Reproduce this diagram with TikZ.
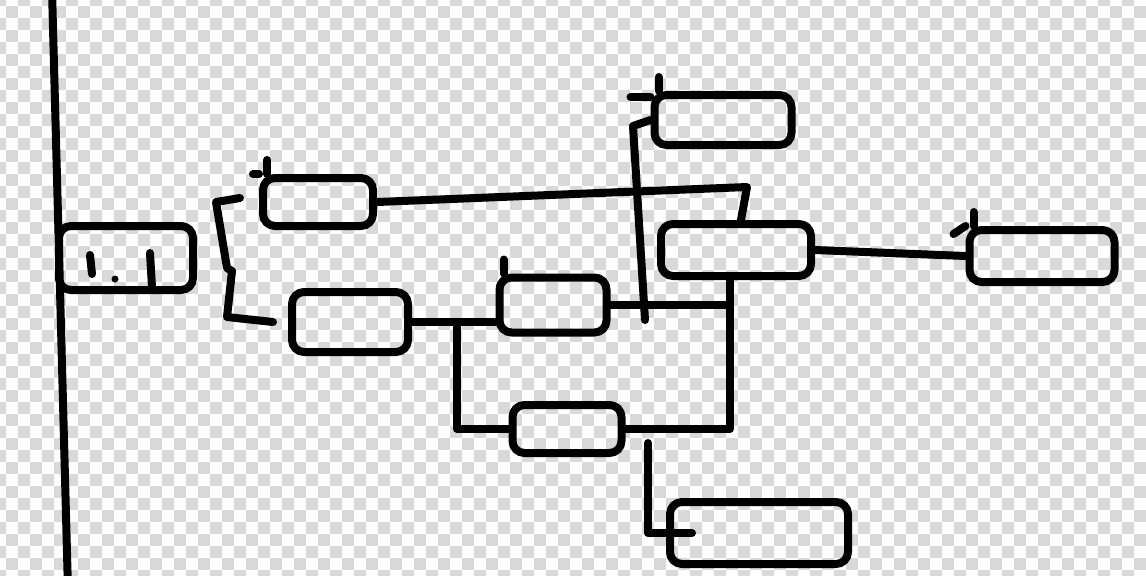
\documentclass[tikz,border=0pt]{standalone}
\usetikzlibrary{positioning}
\definecolor{checkgray}{gray}{0.85}

\tikzset{
  sketch/.style={line width=4pt, line cap=round, line join=round},
  sketchbox/.style={sketch, draw=black, rounded corners=6pt, inner sep=0pt},
}

\begin{document}
\begin{tikzpicture}[x=0.5pt, y=-0.5pt]
  \useasboundingbox (0,0) rectangle (1146,575);

  % transparent background
  \begin{scope}
    \clip (0,0) rectangle (1146,575);
    \fill[white] (0,0) rectangle (1146,575);
    \foreach \r in {0,...,48} {
      \pgfmathtruncatemacro{\off}{mod(\r,2)}
      \foreach \c in {0,2,...,96}
        \fill[checkgray] ({-6+12*(\c+\off)},{-6+12*\r}) rectangle +(12,12);
    }
  \end{scope}

  % long line on the left
  \coordinate (TOP) at (52,-10);
  \coordinate (BOTTOM) at (68,590);
  \draw[sketch] (TOP) -- (BOTTOM);

  \node[sketchbox, minimum width=67pt, minimum height=32pt] (ROOT) at (126,258) {};
  \draw[sketch] (90,255) -- (92,274);
  \fill (115,279) circle (3.5);
  \draw[sketch] (150,253) -- (152,287);

  % bracket
  \draw[sketch] (240,198) -- (216,202) -- (227,268) -- (232,271) -- (227,317) -- (273,322);

  \node[sketchbox, minimum width=55pt, minimum height=24pt] (B1) at (318,202) {};
  \node[sketchbox, minimum width=58pt, minimum height=30pt] (B2) at (350,322) {};
  \node[sketchbox, minimum width=53.5pt, minimum height=27.5pt] (D1) at (553,305) {};
  \node[sketchbox, minimum width=54.5pt, minimum height=24pt] (D2) at (567,429) {};
  \node[sketchbox, minimum width=68.5pt, minimum height=25pt] (C1) at (723,120) {};
  \node[sketchbox, minimum width=75pt, minimum height=26pt] (C2) at (736,250) {};
  \node[sketchbox, minimum width=72.5pt, minimum height=26pt] (C3) at (1042,256) {};
  \node[sketchbox, minimum width=89pt, minimum height=31pt] (E) at (759,533) {};

  % ticks at the corners
  \foreach \n in {B1,C1,C3,D1}
    \draw[sketch] ([xshift=4pt]\n.north west) -- ++(0,-14);
  \draw[sketch] (B1.north west) -- ++(-6,0);
  \draw[sketch] ([yshift=-3pt]C1.north west) -- ++(-20,0);
  \draw[sketch] (C3.north west) -- ++(-12,8);

  \coordinate (J1) at (747,187);
  \coordinate (J2) at (633,126);
  \coordinate (J3) at (645,320);
  \coordinate (J4) at (457,322);
  \coordinate (J5) at (730,276);
  \coordinate (J6) at (648,443);

  \draw[sketch] (B1.east) -- (J1) -- ([xshift=2.5pt]C2.north);
  \draw[sketch] (C1.west) -- (J2) -- (J3);
  \draw[sketch] (C2.east) -- (C3.west);
  \draw[sketch] (B2.east) -- (B2.east -| D1.west);
  \draw[sketch] (J4) |- (D2.west);
  \draw[sketch] (J5) |- (D2.east);
  \draw[sketch] (D1.east) -- (D1.east -| J5);
  \draw[sketch] (J6) |- ([xshift=13pt]E.west);
\end{tikzpicture}
\end{document}
